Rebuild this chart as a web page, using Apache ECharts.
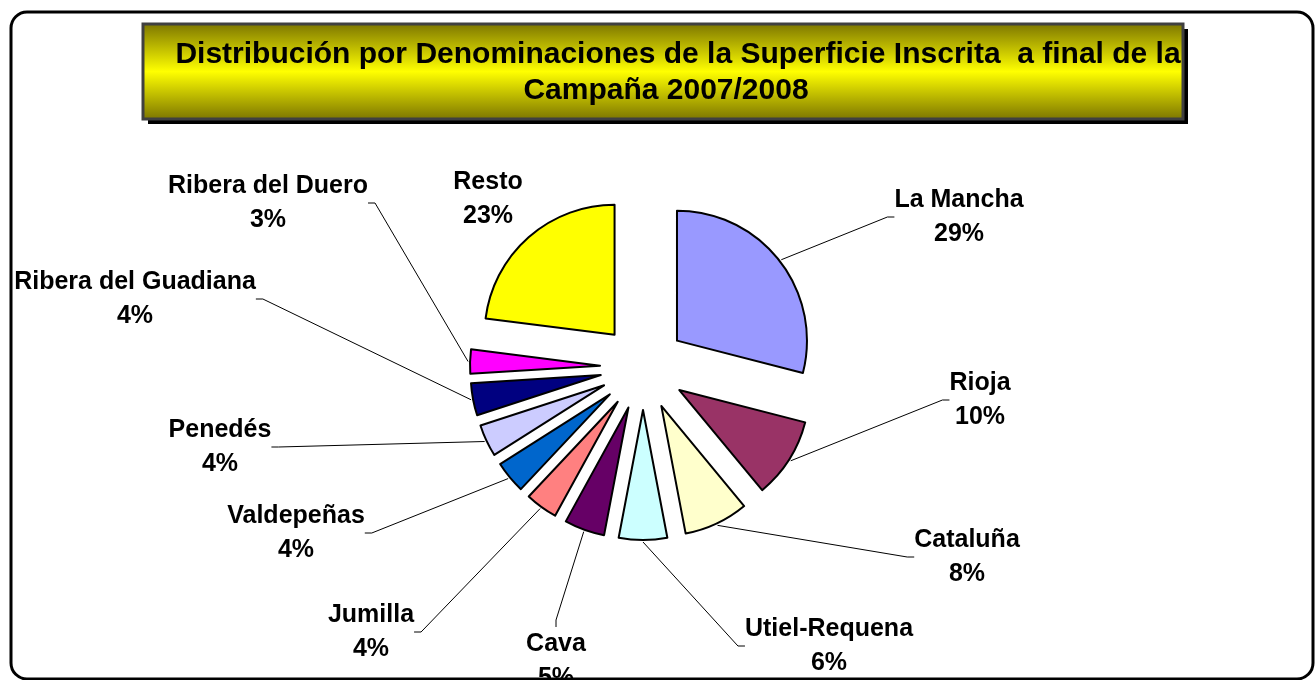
<!DOCTYPE html>
<html>
<head>
<meta charset="utf-8">
<title>Superficie inscrita por denominaciones</title>
<script src="https://cdn.jsdelivr.net/npm/echarts@6/dist/echarts.min.js"></script>
<style>
  html, body { margin: 0; padding: 0; background: #fff; }
  #chart { width: 1315px; height: 680px; }
</style>
</head>
<body>
<div id="chart"></div>
<script>
// datos: % de superficie inscrita, campaña 2007/2008
var denominaciones = ["La Mancha", "Rioja", "Cataluña", "Utiel-Requena", "Cava", "Jumilla",
                      "Valdepeñas", "Penedés", "Ribera del Guadiana", "Ribera del Duero", "Resto"];
var porcentajes = [29, 10, 8, 6, 5, 4, 4, 4, 4, 3, 23];

// colores de cada porción (paleta excel)
var colores = ["#9999FF", "#993366", "#FFFFCC", "#CCFFFF", "#660066", "#FF8080",
               "#0066CC", "#CCCCFF", "#000080", "#FF00FF", "#FFFF00"];

// donde van las etiquetas (centro del texto)
var posEtiquetas = [[959, 217], [980, 400], [967, 557], [829, 646], [556, 661], [371, 632],
                    [296, 533], [220, 447], [135, 299], [268, 203], [488, 199]];

var tituloL1 = "Distribución por Denominaciones de la Superficie Inscrita  a final de la";
var tituloL2 = "Campaña 2007/2008";

var fuente = "'Liberation Sans', Arial, sans-serif";

var myChart = echarts.init(document.getElementById('chart'));

// porciones (separadas)
var datosPie = [];
// copia invisible, solo para etiquetas y lineas
var datosEtiq = [];
for (var i = 0; i < denominaciones.length; i++) {
    datosPie.push({
        name: denominaciones[i],
        value: porcentajes[i],
        selected: true,
        itemStyle: { color: colores[i] }
    });
    var item = { name: denominaciones[i], value: porcentajes[i] };
    // "Resto" va sin linea
    if (denominaciones[i] == "Resto") {
        item.labelLine = { show: false };
    }
    datosEtiq.push(item);
}

var option = {
    animation: false,
    backgroundColor: '#fff',
    graphic: [
        // marco exterior
        {
            type: 'rect',
            shape: { x: 11, y: 12, width: 1302, height: 667, r: 16 },
            style: { fill: 'none', stroke: '#000', lineWidth: 3 },
            z: 0
        },
        // sombra del titulo
        {
            type: 'rect',
            shape: { x: 148, y: 29, width: 1040, height: 95 },
            style: { fill: '#000' },
            z: 1
        },
        // caja del titulo
        {
            type: 'rect',
            shape: { x: 143, y: 24, width: 1040, height: 95 },
            style: {
                fill: new echarts.graphic.LinearGradient(0, 0, 0, 1, [
                    { offset: 0, color: '#7a7300' },
                    { offset: 0.5, color: '#ffff00' },
                    { offset: 1, color: '#7a7300' }
                ]),
                stroke: '#404040',
                lineWidth: 3
            },
            z: 2
        },
        {
            type: 'text',
            x: 678, y: 55,
            style: {
                text: tituloL1, align: 'center', verticalAlign: 'middle',
                font: 'bold 30px ' + fuente, fill: '#000'
            },
            z: 3
        },
        {
            type: 'text',
            x: 666, y: 91,
            style: {
                text: tituloL2, align: 'center', verticalAlign: 'middle',
                font: 'bold 30px ' + fuente, fill: '#000'
            },
            z: 3
        }
    ],
    series: [{
        type: 'pie',
        center: [643, 367],
        radius: 130,
        startAngle: 90,
        clockwise: true,
        selectedMode: 'multiple',
        selectedOffset: 43,
        avoidLabelOverlap: false,
        data: datosPie,
        itemStyle: { borderColor: '#000', borderWidth: 2 },
        select: { itemStyle: { borderColor: '#000', borderWidth: 2 } },
        emphasis: { disabled: true },
        label: { show: false },
        labelLine: { show: false },
        z: 3
    }, {
        // mismo pie, mas grande y transparente: las lineas salen del borde de las porciones separadas
        type: 'pie',
        center: [643, 367],
        radius: 175,
        startAngle: 90,
        clockwise: true,
        silent: true,
        avoidLabelOverlap: false,
        percentPrecision: 0,
        data: datosEtiq,
        itemStyle: { color: 'rgba(0,0,0,0)', borderWidth: 0 },
        emphasis: { disabled: true },
        label: {
            show: true,
            position: 'outside',
            formatter: '{b}\n{d}%',
            fontFamily: fuente,
            fontSize: 25,
            fontWeight: 'bold',
            lineHeight: 34,
            color: '#000',
            align: 'center'
        },
        labelLine: {
            show: true,
            length: 20,
            length2: 7,
            smooth: false,
            lineStyle: { color: '#000', width: 1 }
        },
        labelLayout: function (params) {
            var p = posEtiquetas[params.dataIndex];
            return { x: p[0], y: p[1], align: 'center', verticalAlign: 'middle' };
        },
        z: 4
    }]
};

myChart.setOption(option);
</script>
</body>
</html>
